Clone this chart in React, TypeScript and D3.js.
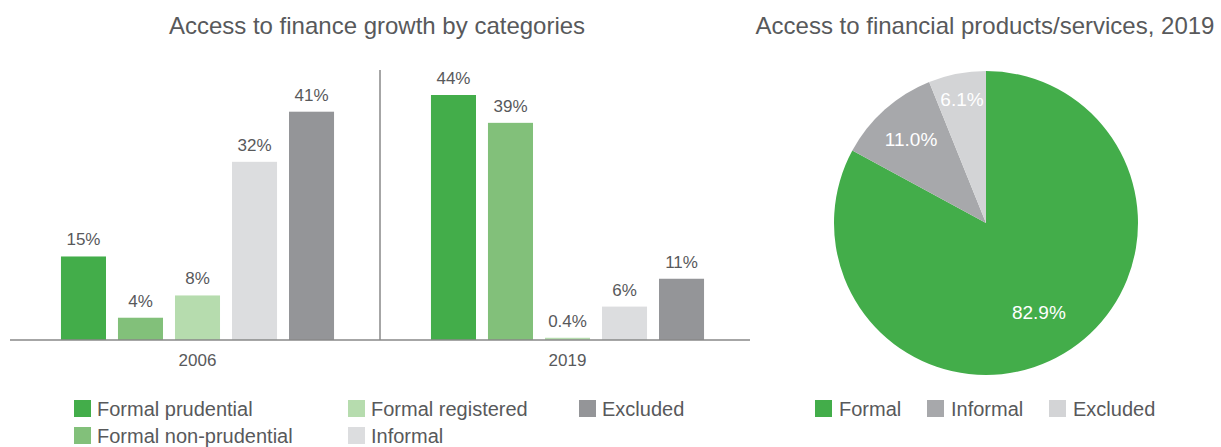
import React from "react";
import * as d3 from "d3";

const years = ["2006", "2019"];
const categories = [
  "Formal prudential",
  "Formal non-prudential",
  "Formal registered",
  "Informal",
  "Excluded",
];
const values2006 = [15, 4, 8, 32, 41];
const values2019 = [44, 39, 0.4, 6, 11];
const barLabels2006 = ["15%", "4%", "8%", "32%", "41%"];
const barLabels2019 = ["44%", "39%", "0.4%", "6%", "11%"];

const pieCategories = ["Formal", "Informal", "Excluded"];
const pieValues = [82.9, 11.0, 6.1];

const barColors = ["#43ad4a", "#82c07a", "#b6dcae", "#dcdddf", "#949598"];
const pieColors = ["#43ad4a", "#a7a8ab", "#d3d4d6"];

const WIDTH = 1221;
const HEIGHT = 447;
const FONT = "'Liberation Sans', Arial, Helvetica, sans-serif";
const TEXT = "#58595b";

const BASELINE = 340;

const App = () => {
  const series = [values2006, values2019];
  const labels = [barLabels2006, barLabels2019];

  const x0 = d3.scaleBand().domain(years).range([12.5, 752.5]);
  const x1 = d3
    .scaleBand()
    .domain(categories)
    .range([0, x0.bandwidth()])
    .paddingInner(0.21)
    .paddingOuter(0.85);
  const y = d3.scaleLinear().domain([0, 44]).range([BASELINE, 95]);

  const legendPos = [
    [74, 408],
    [74, 435],
    [348, 408],
    [348, 435],
    [579, 408],
  ];

  // pie
  const cx = 986;
  const cy = 223;
  const R = 152;
  const pie = d3.pie<number>().sort(null).value((d) => d);
  const arcs = pie(pieValues);
  const arc = d3.arc<d3.PieArcDatum<number>>().innerRadius(0).outerRadius(R);
  const labelFactor = [0.68, 0.74, 0.83];
  const pieLegendX = [815, 927, 1049];

  return (
    <svg
      width={WIDTH}
      height={HEIGHT}
      style={{ position: "absolute", left: 0, top: 0, fontFamily: FONT }}
    >
      <rect width={WIDTH} height={HEIGHT} fill="#fff" />
      <text x={377} y={34} textAnchor="middle" fontSize={24} fill={TEXT}>
        Access to finance growth by categories
      </text>

      {years.map((yr, gi) => (
        <g key={yr} transform={`translate(${x0(yr)},0)`}>
          {categories.map((c, i) => {
            const v = series[gi][i];
            return (
              <g key={c}>
                <rect
                  x={x1(c)}
                  y={y(v)}
                  width={x1.bandwidth()}
                  height={BASELINE - y(v)}
                  fill={barColors[i]}
                />
                <text
                  x={x1(c)! + x1.bandwidth() / 2}
                  y={y(v) - 11}
                  textAnchor="middle"
                  fontSize={17}
                  fill={TEXT}
                >
                  {labels[gi][i]}
                </text>
              </g>
            );
          })}
          <text
            x={x0.bandwidth() / 2}
            y={366}
            textAnchor="middle"
            fontSize={17}
            fill={TEXT}
          >
            {yr}
          </text>
        </g>
      ))}
      <line x1={380} x2={380} y1={70} y2={BASELINE} stroke="#888" strokeWidth={1.5} />
      <line x1={10} x2={750} y1={BASELINE} y2={BASELINE} stroke="#888" strokeWidth={1.5} />

      {categories.map((c, i) => (
        <g key={c} transform={`translate(${legendPos[i][0]},${legendPos[i][1]})`}>
          <rect x={0} y={-8} width={17} height={17} fill={barColors[i]} />
          <text x={23} y={8} fontSize={20} fill={TEXT}>
            {c}
          </text>
        </g>
      ))}

      <text x={985} y={34} textAnchor="middle" fontSize={24} fill={TEXT}>
        Access to financial products/services, 2019
      </text>
      <g transform={`translate(${cx},${cy})`}>
        {arcs.map((a, i) => {
          const la = d3
            .arc<d3.PieArcDatum<number>>()
            .innerRadius(R * labelFactor[i])
            .outerRadius(R * labelFactor[i]);
          const [lx, ly] = la.centroid(a);
          return (
            <g key={pieCategories[i]}>
              <path d={arc(a)!} fill={pieColors[i]} />
              <text
                x={lx}
                y={ly + 7}
                textAnchor="middle"
                fontSize={19}
                fill="#fff"
              >
                {a.data.toFixed(1)}%
              </text>
            </g>
          );
        })}
      </g>
      {pieCategories.map((c, i) => (
        <g key={c} transform={`translate(${pieLegendX[i]},408)`}>
          <rect x={0} y={-8} width={17} height={17} fill={pieColors[i]} />
          <text x={24} y={8} fontSize={20} fill={TEXT}>
            {c}
          </text>
        </g>
      ))}
    </svg>
  );
};

export default App;
